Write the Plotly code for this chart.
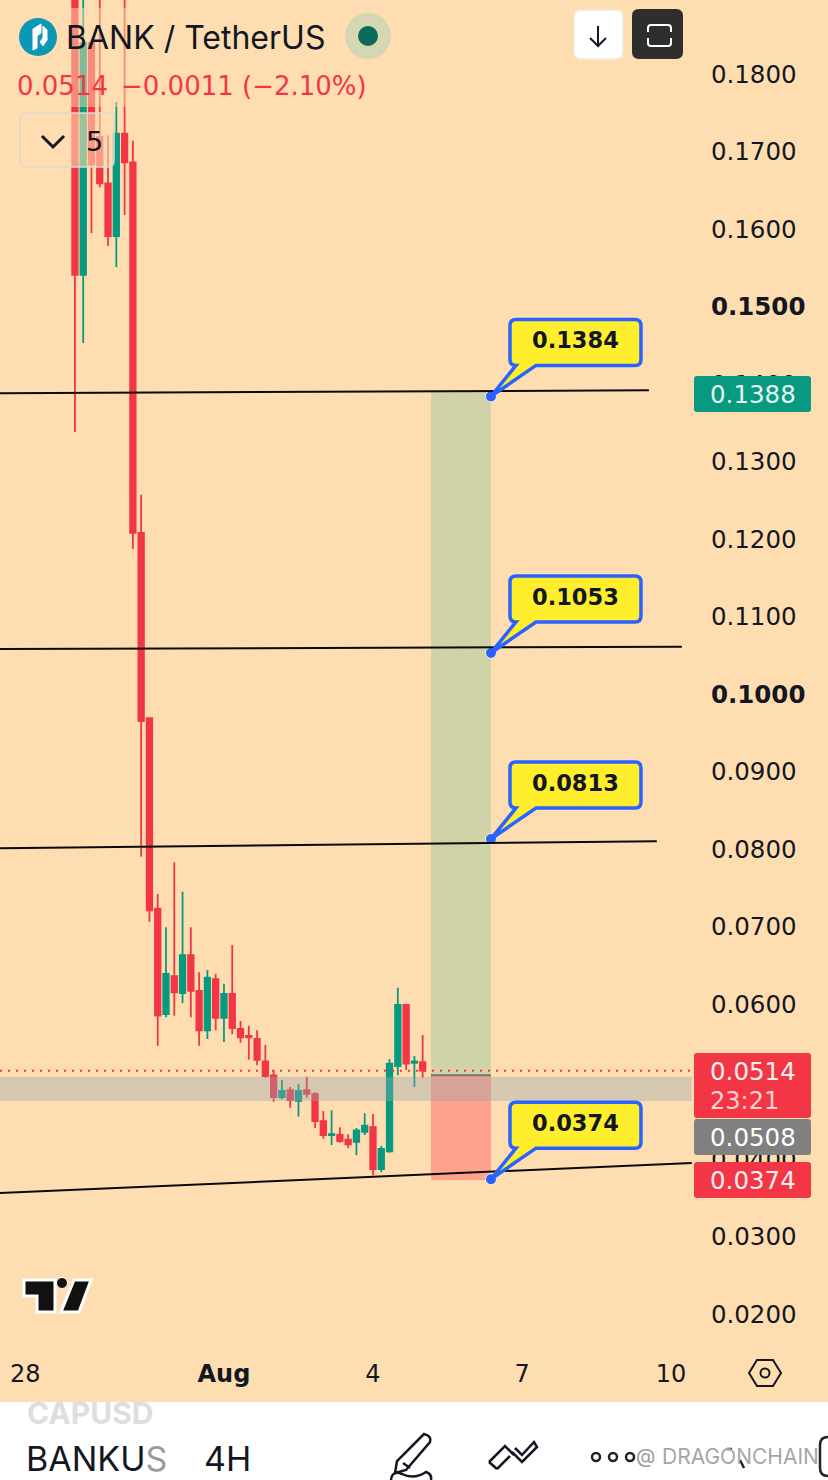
# BANK / TetherUS 4H chart with long position levels
import pandas as pd
import plotly.graph_objects as go

# 4H candles
candle_times = pd.date_range("2025-07-29 00:00", periods=43, freq="4h")
opens = [0.1960, 0.1541, 0.1840, 0.1719, 0.1659, 0.1591, 0.1723, 0.1686, 0.1208, 0.0969, 0.0723,
         0.0587, 0.0636, 0.0614, 0.0663, 0.0617, 0.0566, 0.0632, 0.0582, 0.0613, 0.0568, 0.0559,
         0.0555, 0.0526, 0.0508, 0.0480, 0.0489, 0.0475, 0.0489, 0.0484, 0.0449, 0.0431, 0.0431,
         0.0425, 0.0422, 0.0435, 0.0441, 0.0387, 0.0410, 0.0520, 0.0599, 0.0524, 0.0525]
highs = [0.2100, 0.2050, 0.1845, 0.1960, 0.1721, 0.1764, 0.1970, 0.1714, 0.1257, 0.0969, 0.0742,
         0.0699, 0.0783, 0.0745, 0.0699, 0.0641, 0.0644, 0.0639, 0.0626, 0.0676, 0.0578, 0.0572,
         0.0566, 0.0547, 0.0515, 0.0502, 0.0493, 0.0497, 0.0506, 0.0486, 0.0462, 0.0463, 0.0441,
         0.0432, 0.0440, 0.0459, 0.0458, 0.0417, 0.0529, 0.0621, 0.0599, 0.0533, 0.0560]
lows = [0.1338, 0.1453, 0.1595, 0.1654, 0.1578, 0.1551, 0.1618, 0.1187, 0.0790, 0.0706, 0.0546,
        0.0583, 0.0585, 0.0601, 0.0583, 0.0546, 0.0555, 0.0566, 0.0551, 0.0561, 0.0550, 0.0528,
        0.0521, 0.0505, 0.0474, 0.0477, 0.0466, 0.0455, 0.0479, 0.0440, 0.0426, 0.0418, 0.0421,
        0.0414, 0.0405, 0.0431, 0.0379, 0.0383, 0.0408, 0.0508, 0.0515, 0.0493, 0.0505]
closes = [0.1541, 0.1840, 0.1683, 0.1659, 0.1591, 0.1723, 0.1686, 0.1208, 0.0965, 0.0721, 0.0585,
          0.0639, 0.0615, 0.0663, 0.0617, 0.0566, 0.0634, 0.0582, 0.0613, 0.0569, 0.0557, 0.0557,
          0.0528, 0.0507, 0.0480, 0.0488, 0.0476, 0.0488, 0.0484, 0.0449, 0.0431, 0.0432, 0.0423,
          0.0419, 0.0437, 0.0443, 0.0387, 0.0413, 0.0523, 0.0599, 0.0523, 0.0526, 0.0514]

# axis ticks
price_ticks = [0.18, 0.17, 0.16, 0.15, 0.14, 0.13, 0.12, 0.11, 0.10, 0.09, 0.08, 0.07, 0.06, 0.05, 0.04, 0.03, 0.02]
bold_prices = [0.15, 0.10]
date_ticks = ["2025-07-28", "2025-08-01", "2025-08-04", "2025-08-07", "2025-08-10"]
date_labels = ["28", "<b>Aug</b>", "4", "7", "10"]

# hand drawn trend lines
line_start = "2025-07-27 11:48"
line_ends = ["2025-08-09 13:18", "2025-08-10 05:12", "2025-08-09 17:06", "2025-08-10 10:00"]
line_left_prices = [0.1388, 0.1058, 0.0801, 0.0356]
line_right_prices = [0.1392, 0.1061, 0.0810, 0.0395]

# long position tool
pos_start = "2025-08-05 04:00"
pos_end = "2025-08-06 09:00"
target_price = 0.1390
entry_price = 0.0508
stop_price = 0.0373
last_price = 0.0514
band_low = 0.0475
band_high = 0.0506

# callouts
callout_prices = [0.1384, 0.1053, 0.0813, 0.0374]

FONT = "Inter"
NUM_FONT = "DejaVu Sans"
PEACH = "#FEDEB0"
INK = "#131722"
RED = "#F23645"
TEAL = "#089981"
BLUE = "#2962FF"

fig = go.Figure()
fig.add_trace(go.Candlestick(
    x=candle_times, open=opens, high=highs, low=lows, close=closes,
    increasing=dict(line=dict(color=TEAL, width=1.8), fillcolor=TEAL),
    decreasing=dict(line=dict(color=RED, width=1.8), fillcolor=RED),
    showlegend=False, hoverinfo="skip",
))
fig.add_trace(go.Scatter(
    x=[pos_end] * len(callout_prices), y=callout_prices, mode="markers",
    marker=dict(size=11, color=BLUE, line=dict(color="#FFF3D8", width=1)),
    showlegend=False, hoverinfo="skip",
))
# empty trace so the pixel overlay axes exist
fig.add_trace(go.Scatter(x=[], y=[], xaxis="x2", yaxis="y2", showlegend=False))

shapes = []
texts = []


def px_rect(x0, y0, x1, y1, fill, line=None, width=0, r=0, layer="above"):
    if r:
        path = (f"M{x0+r},{y0} L{x1-r},{y0} Q{x1},{y0} {x1},{y0+r} L{x1},{y1-r} Q{x1},{y1} {x1-r},{y1} "
                f"L{x0+r},{y1} Q{x0},{y1} {x0},{y1-r} L{x0},{y0+r} Q{x0},{y0} {x0+r},{y0} Z")
        shapes.append(dict(type="path", path=path, xref="x2", yref="y2", fillcolor=fill,
                           line=dict(color=line or "rgba(0,0,0,0)", width=width), layer=layer))
    else:
        shapes.append(dict(type="rect", x0=x0, y0=y0, x1=x1, y1=y1, xref="x2", yref="y2", fillcolor=fill,
                           line=dict(color=line or "rgba(0,0,0,0)", width=width), layer=layer))


def px_path(path, color=INK, width=3, fill="rgba(0,0,0,0)", layer="above"):
    shapes.append(dict(type="path", path=path, xref="x2", yref="y2", fillcolor=fill,
                       line=dict(color=color, width=width), layer=layer))


def px_circle(cx, cy, r, fill, line=None, width=0):
    shapes.append(dict(type="circle", x0=cx - r, y0=cy - r, x1=cx + r, y1=cy + r, xref="x2", yref="y2",
                       fillcolor=fill, line=dict(color=line or "rgba(0,0,0,0)", width=width), layer="above"))


def px_text(x, y, text, size, color=INK, anchor="left", family=FONT):
    texts.append(dict(x=x, y=y, xref="x2", yref="y2", text=text, showarrow=False, xanchor=anchor, yanchor="middle",
                      font=dict(family=family, size=size, color=color)))


# position rectangles
shapes.append(dict(type="rect", x0=pos_start, x1=pos_end, y0=entry_price, y1=target_price, xref="x", yref="y",
                   fillcolor="#D0D2A8", line=dict(width=0), layer="below"))
shapes.append(dict(type="rect", x0=pos_start, x1=pos_end, y0=stop_price, y1=entry_price, xref="x", yref="y",
                   fillcolor="#FFA28C", line=dict(width=0), layer="below"))
shapes.append(dict(type="line", x0=pos_start, x1=pos_end, y0=entry_price, y1=entry_price, xref="x", yref="y",
                   line=dict(color="#77736A", width=2), layer="above"))

# last price dotted line and grey zone
shapes.append(dict(type="line", x0=line_start, x1="2025-08-10 10:36", y0=last_price, y1=last_price, xref="x", yref="y",
                   line=dict(color=RED, width=2, dash="2px 6px"), layer="above"))
shapes.append(dict(type="rect", x0=line_start, x1="2025-08-10 10:00", y0=band_low, y1=band_high, xref="x", yref="y",
                   fillcolor="rgba(150,165,175,0.38)", line=dict(width=0), layer="above"))

# trend lines
for end, p0, p1 in zip(line_ends, line_left_prices, line_right_prices):
    shapes.append(dict(type="line", x0=line_start, x1=end, y0=p0, y1=p1, xref="x", yref="y",
                       line=dict(color="#0A0A0A", width=2), layer="above"))

# yellow callouts, path is pixels from the dot
callout_path = ("M25,77 L144,77 Q150,77 150,71 L150,37 Q150,31 144,31 L45,31 L0,0 L25,31 "
                "Q19,31 19,37 L19,71 Q19,77 25,77 Z")
for price in callout_prices:
    shapes.append(dict(type="path", path=callout_path, xref="x", yref="y", xsizemode="pixel", ysizemode="pixel",
                       xanchor=pos_end, yanchor=price, fillcolor="#FFEE2C", line=dict(color=BLUE, width=3.5),
                       layer="above"))
    texts.append(dict(x=pos_end, y=price, xref="x", yref="y", text=f"<b>{price:.4f}</b>", showarrow=False,
                      xshift=84.5, yshift=56, font=dict(family=NUM_FONT, size=22.5, color=INK)))

# right side price tags
px_rect(694, 376, 811, 412, TEAL, r=3)
px_text(708, 394, "0.1388", 24.5, "#E6F5F2", family=NUM_FONT)
px_rect(694, 1053, 811, 1118, RED, r=3)
px_text(708, 1071, "0.0514", 24.5, "#FFF0F0", family=NUM_FONT)
px_text(708, 1101, "23:21", 24, "#FFD0D3", family=NUM_FONT)
px_rect(694, 1119, 811, 1155, "#808080", r=3)
px_text(708, 1137, "0.0508", 24.5, "#FFFFFF", family=NUM_FONT)
px_rect(694, 1162, 811, 1198, RED, r=3)
px_text(708, 1180, "0.0374", 24.5, "#FFF0F0", family=NUM_FONT)

# header, washes the candles out behind the legend
px_rect(0, 8, 372, 107, "rgba(254,222,176,0.5)")
px_circle(38, 37, 19, "#0B97B5")
px_path("M33,29 L41,24 L41,33 L37,36 L37,48 L33,50 Z M43,26 L47,30 L47,40 L43,46 L40,42 L43,38 Z",
        color="#FFFFFF", width=1, fill="#FFFFFF")
px_text(64, 37, "BANK / TetherUS", 32)
px_circle(368, 36, 23, "#D5D7B2")
px_circle(368, 36, 10, "#0B6B5A")
px_text(15, 86, "0.0514", 26, RED, family=NUM_FONT)
px_text(119, 86, "−0.0011 (−2.10%)", 26, RED, family=NUM_FONT)

# collapse button
px_rect(20, 113, 114, 167, "rgba(254,222,176,0.6)", line="#DDD9D0", width=1.5, r=6)
px_path("M42,136 L53,147 L64,136", width=3)
px_text(94, 141, "5", 27, anchor="center", family=NUM_FONT)

# top right buttons
px_rect(574, 10, 623, 59, "#FFFFFF", line="#EFE9DE", width=1.5, r=7)
px_path("M598,26 L598,46 M590,38 L598,46 L606,38", width=2)
px_rect(632, 9, 683, 59, "#2E2E2E", r=7)
px_path("M648,32 L648,28 Q648,25 651,25 L668,25 Q671,25 671,28 L671,32 M648,38 L648,43 Q648,46 651,46 "
        "L668,46 Q671,46 671,43 L671,38", color="#FFFFFF", width=2)

# TradingView logo
px_path("M24,1280 L55,1280 L55,1312 L37,1312 L37,1296 L24,1296 Z M74,1280 L91,1280 L79,1312 L61,1312 Z",
        color="#FFFFFF", width=3, fill="#111111")
px_circle(62, 1283, 5.5, "#111111", line="#FFFFFF", width=1)

# settings hexagon
px_path("M757,1360 L773,1360 L781,1373 L773,1386 L757,1386 L749,1373 Z", width=2)
px_circle(765, 1373, 4.5, "rgba(0,0,0,0)", line=INK, width=2)

# bottom white panel
px_rect(0, 1402, 828, 1480, "#FFFFFF")
px_text(25, 1413, "<b>CAPUSD</b>", 30, "#DEDEDE")
px_text(24, 1458, "BANKU<span style='color:#9A9A9A'>S</span>", 34)
px_text(202, 1458, "4H", 34)

# pen and line tool icons
px_path("M424,1434 Q432,1436 430,1442 L406,1470 L395,1473 L397,1461 Z M403,1463 L410,1468", width=2.5)
px_path("M391,1480 Q392,1470 402,1474 Q414,1480 426,1472 Q432,1474 431,1480", width=2.5)
px_path("M489,1462 L505,1446 L514,1455 M497,1469 L489,1462 M497,1469 L510,1456 M515,1448 L522,1455 L534,1442 "
        "L537,1447 L522,1462 L512,1452", width=2.5)

# more menu with the watermark over it
px_circle(596, 1457, 4, "rgba(0,0,0,0)", line="#222222", width=2.5)
px_circle(613, 1457, 4, "rgba(0,0,0,0)", line="#222222", width=2.5)
px_circle(630, 1457, 4, "rgba(0,0,0,0)", line="#222222", width=2.5)
px_path("M727,1449 L732,1449 M740,1460 L744,1468", color="#222222", width=2.5)
px_text(634, 1456, "@", 20, "#9A9A9A")
px_text(660, 1456, "DRAGONCHAIN", 21, "#A6A6A6")
px_path("M828,1437 Q820,1437 820,1445 L820,1468 Q820,1476 828,1476", color="#222222", width=2.5)

fig.update_layout(
    width=828, height=1480,
    margin=dict(l=0, r=0, t=0, b=0),
    paper_bgcolor=PEACH, plot_bgcolor="rgba(0,0,0,0)",
    boxgap=0.05,
    shapes=shapes, annotations=texts,
    xaxis=dict(domain=[0, 693 / 828], type="date", range=[line_start, "2025-08-10 10:36"],
               rangeslider=dict(visible=False), showgrid=False, zeroline=False, showline=False,
               tickmode="array", tickvals=date_ticks, ticktext=date_labels, ticks="outside", ticklen=0,
               tickcolor="rgba(0,0,0,0)", tickfont=dict(family=NUM_FONT, size=24, color=INK), anchor="y"),
    yaxis=dict(domain=[128 / 1480, 1], range=[0.01510, 0.18955], side="right", showgrid=False, zeroline=False,
               showline=False, tickmode="array", tickvals=price_ticks,
               ticktext=[f"<b>{p:.4f}</b>" if p in bold_prices else f"{p:.4f}" for p in price_ticks],
               ticks="outside", ticklen=12, tickcolor="rgba(0,0,0,0)",
               tickfont=dict(family=NUM_FONT, size=24.5, color=INK), anchor="x"),
    xaxis2=dict(domain=[0, 1], range=[0, 828], visible=False, anchor="y2"),
    yaxis2=dict(domain=[0, 1], range=[1480, 0], visible=False, anchor="x2"),
)

fig.write_html("out.html", config={"displayModeBar": False},
               post_script="document.body.style.margin='0';document.body.style.overflow='hidden';")
